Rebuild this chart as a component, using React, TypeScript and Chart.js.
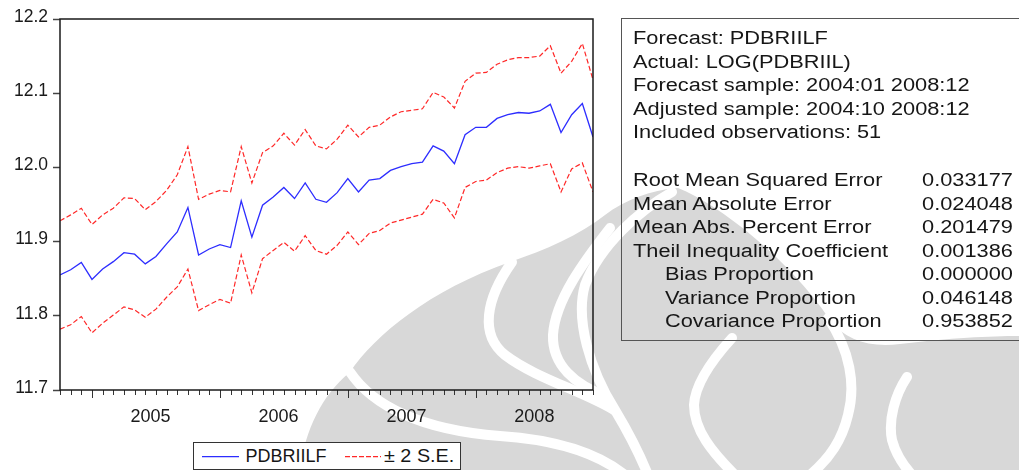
import React, { useEffect, useRef } from "react";
import { Chart, registerables } from "chart.js";

Chart.register(...registerables);

// ---------- data ----------
const startYear = 2004;
const startMonth = 10;
const nObs = 51;
const months: string[] = [];
for (let i = 0, y = startYear, m = startMonth; i < nObs; i++) {
  months.push(`${y}:${String(m).padStart(2, "0")}`);
  m++;
  if (m > 12) { m = 1; y++; }
}

const forecast = [
  11.855, 11.862, 11.872, 11.849, 11.863, 11.873, 11.885, 11.883, 11.870, 11.880,
  11.897, 11.913, 11.946, 11.882, 11.890, 11.896, 11.892, 11.955, 11.906, 11.949,
  11.960, 11.973, 11.958, 11.979, 11.957, 11.953, 11.966, 11.985, 11.967, 11.983,
  11.985, 11.996, 12.001, 12.005, 12.007, 12.029, 12.022, 12.005, 12.044, 12.054,
  12.054, 12.066, 12.071, 12.074, 12.073, 12.076, 12.085, 12.047, 12.071, 12.086,
  12.041,
];

const upperBand = [
  11.928, 11.936, 11.945, 11.923, 11.936, 11.945, 11.959, 11.958, 11.943, 11.954,
  11.969, 11.990, 12.028, 11.957, 11.964, 11.969, 11.967, 12.028, 11.979, 12.020,
  12.029, 12.046, 12.030, 12.051, 12.029, 12.025, 12.038, 12.057, 12.041, 12.054,
  12.057, 12.068, 12.075, 12.077, 12.079, 12.101, 12.095, 12.080, 12.116, 12.127,
  12.128, 12.139, 12.145, 12.148, 12.148, 12.150, 12.164, 12.127, 12.143, 12.167,
  12.118,
];

const lowerBand = [
  11.782, 11.788, 11.799, 11.777, 11.790, 11.801, 11.812, 11.808, 11.798, 11.809,
  11.825, 11.839, 11.863, 11.807, 11.815, 11.822, 11.817, 11.882, 11.831, 11.877,
  11.888, 11.899, 11.887, 11.908, 11.888, 11.883, 11.895, 11.913, 11.896, 11.911,
  11.915, 11.925, 11.929, 11.933, 11.937, 11.957, 11.952, 11.932, 11.973, 11.981,
  11.983, 11.993, 11.999, 12.001, 11.999, 12.002, 12.005, 11.967, 11.998, 12.006,
  11.967,
];

const yTicks = [11.7, 11.8, 11.9, 12.0, 12.1, 12.2];
const yearLabels = ["2005", "2006", "2007", "2008"];
const yearLabelAt = ["2005:07", "2006:07", "2007:07", "2008:07"];

const seriesNames = ["PDBRIILF", "± 2 S.E."];

const headerLines = [
  "Forecast: PDBRIILF",
  "Actual: LOG(PDBRIIL)",
  "Forecast sample: 2004:01 2008:12",
  "Adjusted sample: 2004:10 2008:12",
  "Included observations: 51",
];
const mainStatLabels = [
  "Root Mean Squared Error",
  "Mean Absolute Error",
  "Mean Abs. Percent Error",
  "Theil Inequality Coefficient",
];
const mainStatValues = ["0.033177", "0.024048", "0.201479", "0.001386"];
const propLabels = ["Bias Proportion", "Variance Proportion", "Covariance Proportion"];
const propValues = ["0.000000", "0.046148", "0.953852"];

// ---------- styling ----------
const FONT = "'Liberation Sans', Arial, Helvetica, sans-serif";
const BLUE = "rgb(45,45,255)";
const RED = "rgb(255,40,40)";

const watermarkPlugin = {
  id: "watermark",
  beforeDraw(chart: any) {
    const ctx: CanvasRenderingContext2D = chart.ctx;
    ctx.save();
    ctx.fillStyle = "#d8d8d8";
    const sil = new Path2D(
      "M 300 470 C 305 430 322 395 350 372 C 375 335 430 290 510 262 C 545 250 580 235 605 215 " +
        "C 625 200 650 190 678 188 C 720 205 790 260 830 320 C 845 340 870 348 900 344 " +
        "C 950 338 990 336 1019 336 L 1019 470 Z"
    );
    ctx.fill(sil);
    ctx.strokeStyle = "#ffffff";
    ctx.lineWidth = 10;
    ctx.lineCap = "round";
    const bands = [
      "M 350 372 C 372 405 420 430 500 436 C 560 440 600 455 625 475",
      "M 512 262 C 485 300 480 335 505 355 C 535 378 585 392 614 410",
      "M 610 228 C 585 260 555 300 553 335 C 552 365 575 385 606 396",
      "M 672 192 C 640 210 600 245 585 285 C 575 320 590 370 615 410 C 630 435 640 455 648 475",
      "M 828 318 C 850 350 856 385 848 415 C 842 440 830 458 810 475",
      "M 732 338 C 712 360 695 385 694 405 C 694 430 712 452 735 475",
      "M 907 377 C 895 395 888 420 892 440 C 896 455 903 465 912 475",
    ];
    bands.forEach((d) => ctx.stroke(new Path2D(d)));
    ctx.restore();
  },
};

const framePlugin = {
  id: "frame",
  afterDraw(chart: any) {
    const ctx: CanvasRenderingContext2D = chart.ctx;
    const { left, right, top, bottom } = chart.chartArea;
    const xs = chart.scales.x;
    ctx.save();
    ctx.strokeStyle = "#333";
    ctx.lineWidth = 1;
    months.forEach((m, i) => {
      const px = Math.round(xs.getPixelForValue(i)) + 0.5;
      const len = m.endsWith(":01") ? 8 : 5;
      ctx.beginPath();
      ctx.moveTo(px, bottom);
      ctx.lineTo(px, bottom + len);
      ctx.stroke();
    });
    ctx.strokeStyle = "#1a1a1a";
    ctx.lineWidth = 1.5;
    ctx.strokeRect(left, top, right - left, bottom - top);
    ctx.restore();
  },
};

function ForecastChart() {
  const ref = useRef<HTMLCanvasElement | null>(null);
  useEffect(() => {
    if (!ref.current) return;
    const toXY = (arr: number[]) => arr.map((v, i) => ({ x: i, y: v }));
    const chart = new Chart(ref.current, {
      type: "line",
      data: {
        datasets: [
          {
            label: seriesNames[0],
            data: toXY(forecast),
            borderColor: BLUE,
            borderWidth: 1.3,
            pointRadius: 0,
            tension: 0,
          },
          {
            label: seriesNames[1],
            data: toXY(upperBand),
            borderColor: RED,
            borderWidth: 1.2,
            borderDash: [5, 2.5],
            pointRadius: 0,
            tension: 0,
          },
          {
            label: seriesNames[1] + " ",
            data: toXY(lowerBand),
            borderColor: RED,
            borderWidth: 1.2,
            borderDash: [5, 2.5],
            pointRadius: 0,
            tension: 0,
          },
        ],
      },
      options: {
        responsive: false,
        animation: false,
        events: [],
        layout: { padding: { left: 0, top: 19, right: 426, bottom: 0 } },
        plugins: { legend: { display: false }, tooltip: { enabled: false }, title: { display: false } },
        scales: {
          x: {
            type: "linear",
            min: 0,
            max: months.length - 1,
            grid: { display: false },
            border: { display: false },
            afterBuildTicks: (s: any) => {
              s.ticks = yearLabelAt.map((lab) => ({ value: months.indexOf(lab) - 0.5 }));
            },
            afterFit: (s: any) => {
              s.height = 80;
            },
            ticks: {
              autoSkip: false,
              maxRotation: 0,
              minRotation: 0,
              padding: 8,
              color: "#1a1a1a",
              font: { family: FONT, size: 18 },
              callback: (_v: any, idx: number) => yearLabels[idx],
            },
          },
          y: {
            min: 11.7,
            max: 12.2,
            grid: {
              display: true,
              drawOnChartArea: false,
              drawTicks: true,
              tickLength: 7,
              tickColor: "#444",
              tickWidth: 1.5,
            },
            border: { display: false },
            afterBuildTicks: (s: any) => {
              s.ticks = yTicks.map((v) => ({ value: v }));
            },
            afterFit: (s: any) => {
              s.width = 60;
            },
            ticks: {
              padding: 5,
              labelOffset: -2,
              color: "#1a1a1a",
              font: { family: FONT, size: 17.5 },
              callback: (v: any) => Number(v).toFixed(1),
            },
          },
        },
      },
      plugins: [watermarkPlugin, framePlugin],
    } as any);
    return () => chart.destroy();
  }, []);
  return <canvas ref={ref} width={1019} height={470} style={{ position: "absolute", left: 0, top: 0 }} />;
}

export default function App() {
  const textStyle: React.CSSProperties = {
    fontFamily: FONT,
    fontSize: 18,
    color: "#161616",
    whiteSpace: "nowrap",
  };
  return (
    <div style={{ position: "absolute", left: 0, top: 0, width: 1019, height: 470, overflow: "hidden", background: "#fff" }}>
      <ForecastChart />
      {/* statistics box */}
      <div
        style={{
          position: "absolute",
          left: 621,
          top: 18,
          width: 398,
          height: 323,
          borderTop: "1px solid #555",
          borderLeft: "1px solid #555",
          borderBottom: "1px solid #555",
          boxSizing: "border-box",
        }}
      >
        <div
          style={{
            ...textStyle,
            position: "absolute",
            left: 11,
            top: 8,
            width: 314,
            lineHeight: "23.5px",
            transform: "scaleX(1.21)",
            transformOrigin: "0 0",
          }}
        >
          {headerLines.map((l) => (
            <div key={l}>{l}</div>
          ))}
          <div style={{ height: 24.8 }} />
          {mainStatLabels.map((l, i) => (
            <div key={l} style={{ display: "flex", justifyContent: "space-between" }}>
              <span>{l}</span>
              <span>{mainStatValues[i]}</span>
            </div>
          ))}
          {propLabels.map((l, i) => (
            <div key={l} style={{ display: "flex", justifyContent: "space-between" }}>
              <span style={{ paddingLeft: 26.4 }}>{l}</span>
              <span>{propValues[i]}</span>
            </div>
          ))}
        </div>
      </div>
      {/* legend */}
      <div
        style={{
          position: "absolute",
          left: 193,
          top: 442,
          width: 268,
          height: 28,
          border: "1.5px solid #333",
          boxSizing: "border-box",
          background: "#fff",
        }}
      />
      <svg style={{ position: "absolute", left: 202, top: 452 }} width={37} height={10}>
        <line x1={0} y1={4.7} x2={37} y2={4.7} stroke={BLUE} strokeWidth={1.3} />
      </svg>
      <div style={{ ...textStyle, position: "absolute", left: 245.5, top: 445.5, lineHeight: "20px" }}>{seriesNames[0]}</div>
      <svg style={{ position: "absolute", left: 345, top: 452 }} width={36} height={10}>
        <line x1={0} y1={4.7} x2={36} y2={4.7} stroke={RED} strokeWidth={1.2} strokeDasharray="5 2" />
      </svg>
      <div style={{ ...textStyle, position: "absolute", left: 384, top: 445.5, lineHeight: "20px", transform: "scaleX(1.1)", transformOrigin: "0 0" }}>
        {seriesNames[1]}
      </div>
    </div>
  );
}
